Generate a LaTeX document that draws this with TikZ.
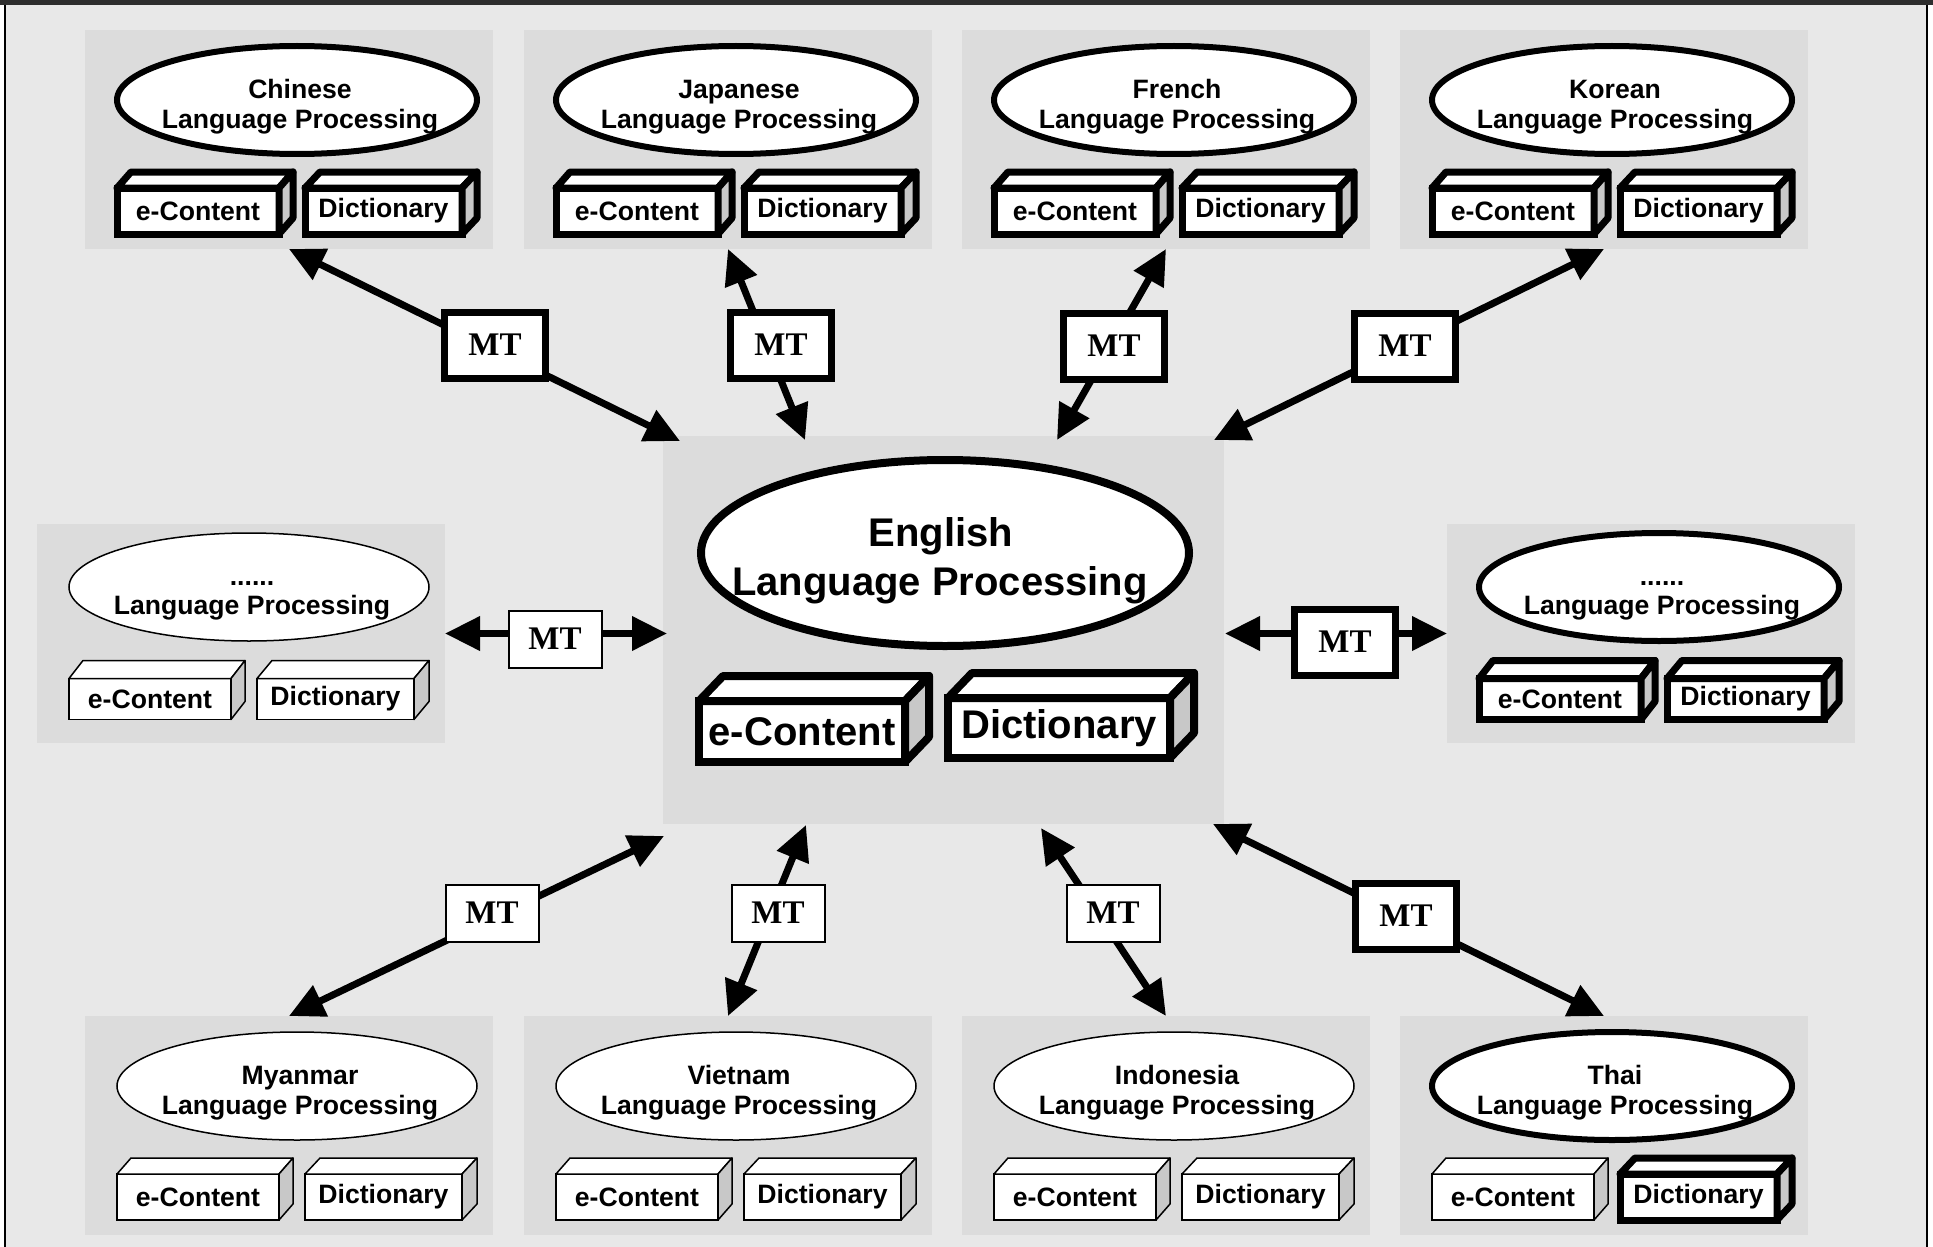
\documentclass[tikz,border=0pt]{standalone}
\usepackage{fontspec}
\setmainfont{Liberation Sans}
\newfontfamily\serifmt{Liberation Serif}
\usetikzlibrary{shapes.geometric,arrows.meta}

\definecolor{bgray}{RGB}{232,232,232}
\definecolor{ggray}{RGB}{220,220,220}
\definecolor{sgray}{RGB}{200,200,200}
\definecolor{topstrip}{RGB}{45,45,45}

\tikzset{
  grp/.style={fill=ggray, draw=none, anchor=north west, minimum width=204pt, minimum height=109.5pt, inner sep=0pt, outer sep=0pt},
  ell/.style={ellipse, draw, fill=white, inner sep=0pt, outer sep=0pt, minimum width=180pt, minimum height=54pt},
  thk/.style={line width=3pt},
  thn/.style={line width=0.75pt},
  bthk/.style={line width=3.5pt},
  ltxt/.style={font=\bfseries\fontsize{13.3}{15}\selectfont, anchor=base, inner sep=0pt},
  bigtxt/.style={font=\bfseries\fontsize{20}{24}\selectfont, anchor=base, inner sep=0pt},
  front/.style={draw, fill=white, inner sep=0pt, outer sep=0pt, font=\bfseries\fontsize{13.3}{15}\selectfont},
  mt/.style={draw, fill=white, inner sep=0pt, outer sep=0pt, font=\serifmt\bfseries\fontsize{16.5}{18}\selectfont},
  mtthk/.style={mt, line width=3.5pt, minimum width=50.5pt, minimum height=33pt},
  mtthn/.style={mt, line width=1pt, minimum width=46.5pt, minimum height=28.5pt},
  link/.style={line width=3.5pt, {Triangle[length=17.5pt,width=16.5pt]}-{Triangle[length=17.5pt,width=16.5pt]}},
}

% cuboid: #1 name, #2 line style, #3 centre, #4 size options, #5 text, #6 dx, #7 dy
\newcommand\cube[7]{%
  \node[front,#2,#4] (#1) at (#3) {#5};
  \filldraw[#2,fill=white,line join=round] (#1.north west) -- ++(#6,-#7) -- ([shift={(#6,-#7)}]#1.north east) -- (#1.north east) -- cycle;
  \filldraw[#2,fill=sgray,line join=round] (#1.north east) -- ++(#6,-#7) -- ([shift={(#6,-#7)}]#1.south east) -- (#1.south east) -- cycle;
}

\newcommand\setrow[6]{\def\ey{#1}\def\tya{#2}\def\tyb{#3}\def\by{#4}\def\bh{#5}\def\bd{#6}}

% language group: #1 name, #2 x, #3 y, #4 language, #5 ellipse style, #6 e-content style, #7 dictionary style
\newcommand\langgrp[7]{%
  \node[grp] (#1) at (#2,#3) {};
  \node[ell,#5] (#1-e) at (#2+212,#3+\ey) {};
  \node[ltxt] (#1-t1) at (#2+215,#3+\tya) {#4};
  \node[ltxt] (#1-t2) at (#2+215,#3+\tyb) {Language Processing};
  \cube{#1-ec}{#6}{#2+113,#3+\by}{minimum width=81pt, minimum height=\bh}{e-Content}{14}{\bd}
  \cube{#1-dc}{#7}{#2+298.5,#3+\by}{minimum width=78.5pt, minimum height=\bh}{Dictionary}{15}{\bd}
}

\begin{document}
\begin{tikzpicture}[x=0.5pt,y=-0.5pt]
\useasboundingbox (0,0) rectangle (1933,1247);
% frame
\fill[white] (0,0) rectangle (1933,1247);
\fill[bgray] (5,5) rectangle (1927,1247);
\fill[topstrip] (0,0) rectangle (1933,5);
\draw[line width=1pt] (5,5) -- (5,1247);
\draw[line width=1pt] (1927,5) -- (1927,1247);

% language groups
\setrow{70}{68}{98}{181}{23pt}{16}
\langgrp{zh}{85}{30}{Chinese}{thk}{bthk}{bthk}
\langgrp{ja}{524}{30}{Japanese}{thk}{bthk}{bthk}
\langgrp{fr}{962}{30}{French}{thk}{bthk}{bthk}
\langgrp{ko}{1400}{30}{Korean}{thk}{bthk}{bthk}
\langgrp{my}{85}{1016}{Myanmar}{thn}{thn}{thn}
\langgrp{vi}{524}{1016}{Vietnam}{thn}{thn}{thn}
\langgrp{id}{962}{1016}{Indonesia}{thn}{thn}{thn}
\langgrp{th}{1400}{1016}{Thai}{thk}{thn}{bthk}
\setrow{63}{61}{90}{175}{20.5pt}{18}
\langgrp{ml}{37}{524}{......}{thn}{thn}{thn}
\langgrp{mr}{1447}{524}{......}{thk}{bthk}{bthk}

% English group
\node[grp, minimum width=280.5pt, minimum height=194pt] (en) at (663,436) {};
\node[ell, line width=4pt, minimum width=244pt, minimum height=93pt] (en-e) at (945,553) {};
\node[bigtxt] (en-t1) at (941,546) {English};
\node[bigtxt] (en-t2) at (940,595) {Language Processing};
\cube{en-ec}{line width=4pt}{802,731.5}{minimum width=103pt, minimum height=30.5pt, font=\bfseries\fontsize{20}{24}\selectfont}{e-Content}{24}{25}
\cube{en-dc}{line width=4pt}{1059,728}{minimum width=111pt, minimum height=30pt, font=\bfseries\fontsize{20}{24}\selectfont}{Dictionary}{24}{25}

% connector ends on the English group
\coordinate (en-zh) at (680,441);
\coordinate (en-ja) at (805,440);
\coordinate (en-fr) at (1057,440);
\coordinate (en-ko) at (1214,440);
\coordinate (en-ml) at (667,633.5);
\coordinate (en-mr) at (1225,633.5);
\coordinate (en-my) at (664,836);
\coordinate (en-vi) at (806,825);
\coordinate (en-id) at (1041,828);
\coordinate (en-th) at (1213,824);

% connectors
\draw[link] (zh.south) -- (en-zh);
\draw[link] (ja.south) -- (en-ja);
\draw[link] (fr.south) -- (en-fr);
\draw[link] (ko.south) -- (en-ko);
\draw[link] (ml.east) -- (en-ml);
\draw[link] (en-mr) -- (mr.west);
\draw[link] (my.north) -- (en-my);
\draw[link] (vi.north) -- (en-vi);
\draw[link] (id.north) -- (en-id);
\draw[link] (th.north) -- (en-th);

% MT boxes
\node[mtthk] (mt-zh) at (495,345) {MT};
\node[mtthk] (mt-ja) at (781,345) {MT};
\node[mtthk] (mt-fr) at (1114,346) {MT};
\node[mtthk] (mt-ko) at (1405,346) {MT};
\node[mtthn] (mt-ml) at (555,639) {MT};
\node[mtthk] (mt-mr) at (1345,642) {MT};
\node[mtthn] (mt-my) at (492,913) {MT};
\node[mtthn] (mt-vi) at (778,913) {MT};
\node[mtthn] (mt-id) at (1113,913) {MT};
\node[mtthk] (mt-th) at (1406,916) {MT};
\end{tikzpicture}
\end{document}
